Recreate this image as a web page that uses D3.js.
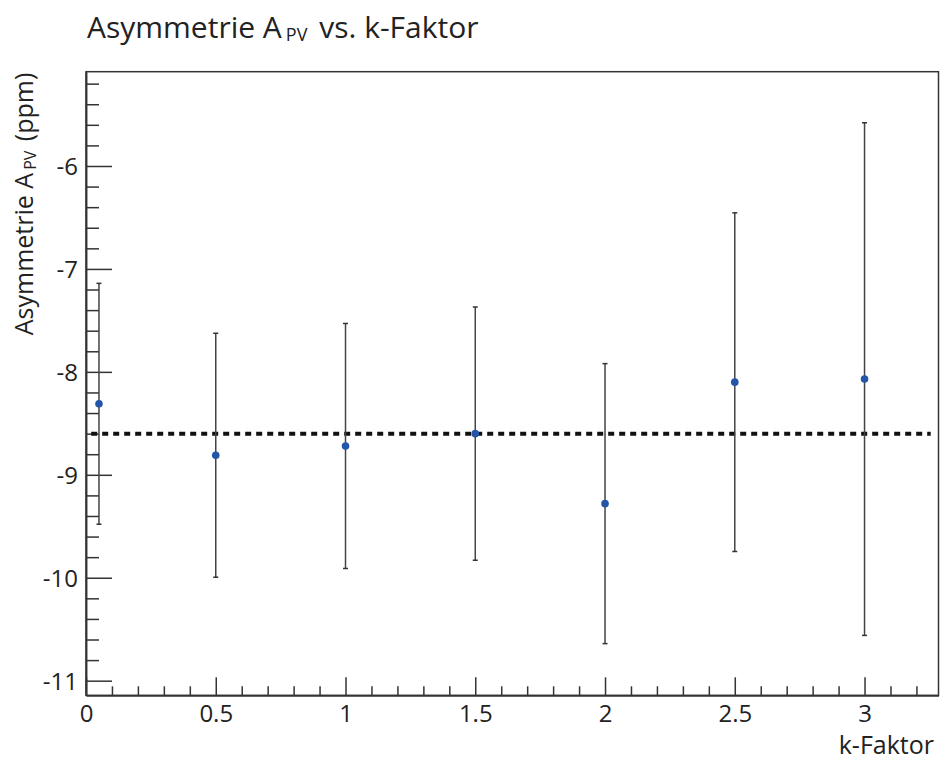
<!DOCTYPE html>
<html>
<head>
<meta charset="utf-8">
<script src="https://cdn.jsdelivr.net/npm/d3@7"></script>
<style>
  body { margin: 0; background: #fff; }
  svg { display: block; }
  text { font-family: "Open Sans", "Noto Sans", sans-serif; fill: #222; }
</style>
</head>
<body>
<svg id="chart" width="940" height="760"></svg>
<script>
// Measured asymmetry per k-factor setting (ppm), with symmetric errors
const kValues   = [0.05, 0.5, 1.0, 1.5, 2.0, 2.5, 3.0];
const asymValues = [-8.31, -8.81, -8.72, -8.60, -9.28, -8.10, -8.07];
const asymErrors = [1.17, 1.185, 1.19, 1.23, 1.36, 1.645, 2.49];
const meanValue = -8.60;

const xMajorTicks = [0, 0.5, 1, 1.5, 2, 2.5, 3];
const xTickLabels = ["0", "0.5", "1", "1.5", "2", "2.5", "3"];
const yMajorTicks = [-11, -10, -9, -8, -7, -6];
const yTickLabels = ["-11", "-10", "-9", "-8", "-7", "-6"];

const svg = d3.select("#chart");
const frameLeft = 86, frameRight = 938.5, frameTop = 71.7, frameBottom = 695.3;

const x = d3.scaleLinear().domain([0, 3.285]).range([frameLeft, frameRight]);
const y = d3.scaleLinear().domain([-11.142, -5.084]).range([frameBottom, frameTop]);

const axisColor = "#333";

// Minor tick positions (every 0.1 on k, every 0.2 ppm on the asymmetry)
const xMinor = d3.range(0, 3.29, 0.1).filter(v => Math.abs(v * 2 - Math.round(v * 2)) > 1e-6);
const yMinor = d3.range(-11.2, -5.0, 0.2).filter(v => v >= -11.142 && v <= -5.084 && Math.abs(v - Math.round(v)) > 1e-6);

// x axis: minor and major ticks in separate groups, pointing into the frame
svg.append("g").attr("transform", `translate(0,${frameBottom})`)
  .call(d3.axisBottom(x).tickValues(xMinor).tickSize(-9).tickSizeOuter(0).tickFormat(""));
const gx = svg.append("g").attr("transform", `translate(0,${frameBottom})`);
gx.call(d3.axisBottom(x).tickValues(xMajorTicks).tickSize(-18).tickSizeOuter(0)
  .tickFormat((d, i) => xTickLabels[i]));
gx.selectAll("text").attr("y", 26.5).attr("dy", null)
  .style("font-size", "24px").style("font-family", "'Open Sans', sans-serif").attr("fill", "#222");

// y axis
svg.append("g").attr("transform", `translate(${frameLeft},0)`)
  .call(d3.axisLeft(y).tickValues(yMinor).tickSize(-13).tickSizeOuter(0).tickFormat(""));
const gy = svg.append("g").attr("transform", `translate(${frameLeft},0)`);
gy.call(d3.axisLeft(y).tickValues(yMajorTicks).tickSize(-26).tickSizeOuter(0)
  .tickFormat((d, i) => yTickLabels[i]));
gy.selectAll("text").attr("x", -8).attr("dy", "0.36em")
  .style("font-size", "24px").style("font-family", "'Open Sans', sans-serif").attr("fill", "#222");

svg.selectAll(".tick line").attr("stroke", axisColor).attr("stroke-width", 1.5);
svg.selectAll(".domain").attr("stroke", axisColor).attr("stroke-width", 1.5);

// Frame
svg.append("rect")
  .attr("x", frameLeft).attr("y", frameTop)
  .attr("width", frameRight - frameLeft).attr("height", frameBottom - frameTop)
  .attr("fill", "none").attr("stroke", axisColor).attr("stroke-width", 1.5);

// Mean line
svg.append("line")
  .attr("x1", x(0.02)).attr("x2", x(3.255))
  .attr("y1", y(meanValue)).attr("y2", y(meanValue))
  .attr("stroke", "#111").attr("stroke-width", 4)
  .attr("stroke-dasharray", "6,5");

// Error bars
const pts = kValues.map((k, i) => ({ k, v: asymValues[i], e: asymErrors[i] }));
const eb = svg.append("g");
eb.selectAll("line.bar").data(pts).join("line").attr("class", "bar")
  .attr("x1", d => x(d.k)).attr("x2", d => x(d.k))
  .attr("y1", d => y(d.v + d.e)).attr("y2", d => y(d.v - d.e))
  .attr("stroke", "#444").attr("stroke-width", 1.5);
eb.selectAll("line.capTop").data(pts).join("line").attr("class", "capTop")
  .attr("x1", d => x(d.k) - 2.5).attr("x2", d => x(d.k) + 2.5)
  .attr("y1", d => y(d.v + d.e)).attr("y2", d => y(d.v + d.e))
  .attr("stroke", "#333").attr("stroke-width", 1.5);
eb.selectAll("line.capBot").data(pts).join("line").attr("class", "capBot")
  .attr("x1", d => x(d.k) - 2.5).attr("x2", d => x(d.k) + 2.5)
  .attr("y1", d => y(d.v - d.e)).attr("y2", d => y(d.v - d.e))
  .attr("stroke", "#333").attr("stroke-width", 1.5);

// Points
svg.append("g").selectAll("circle").data(pts).join("circle")
  .attr("cx", d => x(d.k)).attr("cy", d => y(d.v)).attr("r", 3.8)
  .attr("fill", "#2356a8");

// Title
const title = svg.append("text").attr("x", 87).attr("y", 38).style("font-size", "30px");
title.append("tspan").text("Asymmetrie A");
title.append("tspan").attr("dy", 3).attr("dx", 4).style("font-size", "18px").text("PV");
title.append("tspan").attr("dy", -3).attr("dx", 4).text(" vs. k-Faktor");

// Axis titles
svg.append("text")
  .attr("x", 934).attr("y", 754)
  .attr("text-anchor", "end").style("font-size", "25px")
  .text("k-Faktor");

const yt = svg.append("text")
  .attr("transform", `translate(33,${frameTop + 1}) rotate(-90)`)
  .attr("text-anchor", "end").style("font-size", "25px");
yt.append("tspan").text("Asymmetrie A");
yt.append("tspan").attr("dy", 3).attr("dx", 3).style("font-size", "16px").text("PV");
yt.append("tspan").attr("dy", -3).attr("dx", 3).text(" (ppm)");
</script>
</body>
</html>
